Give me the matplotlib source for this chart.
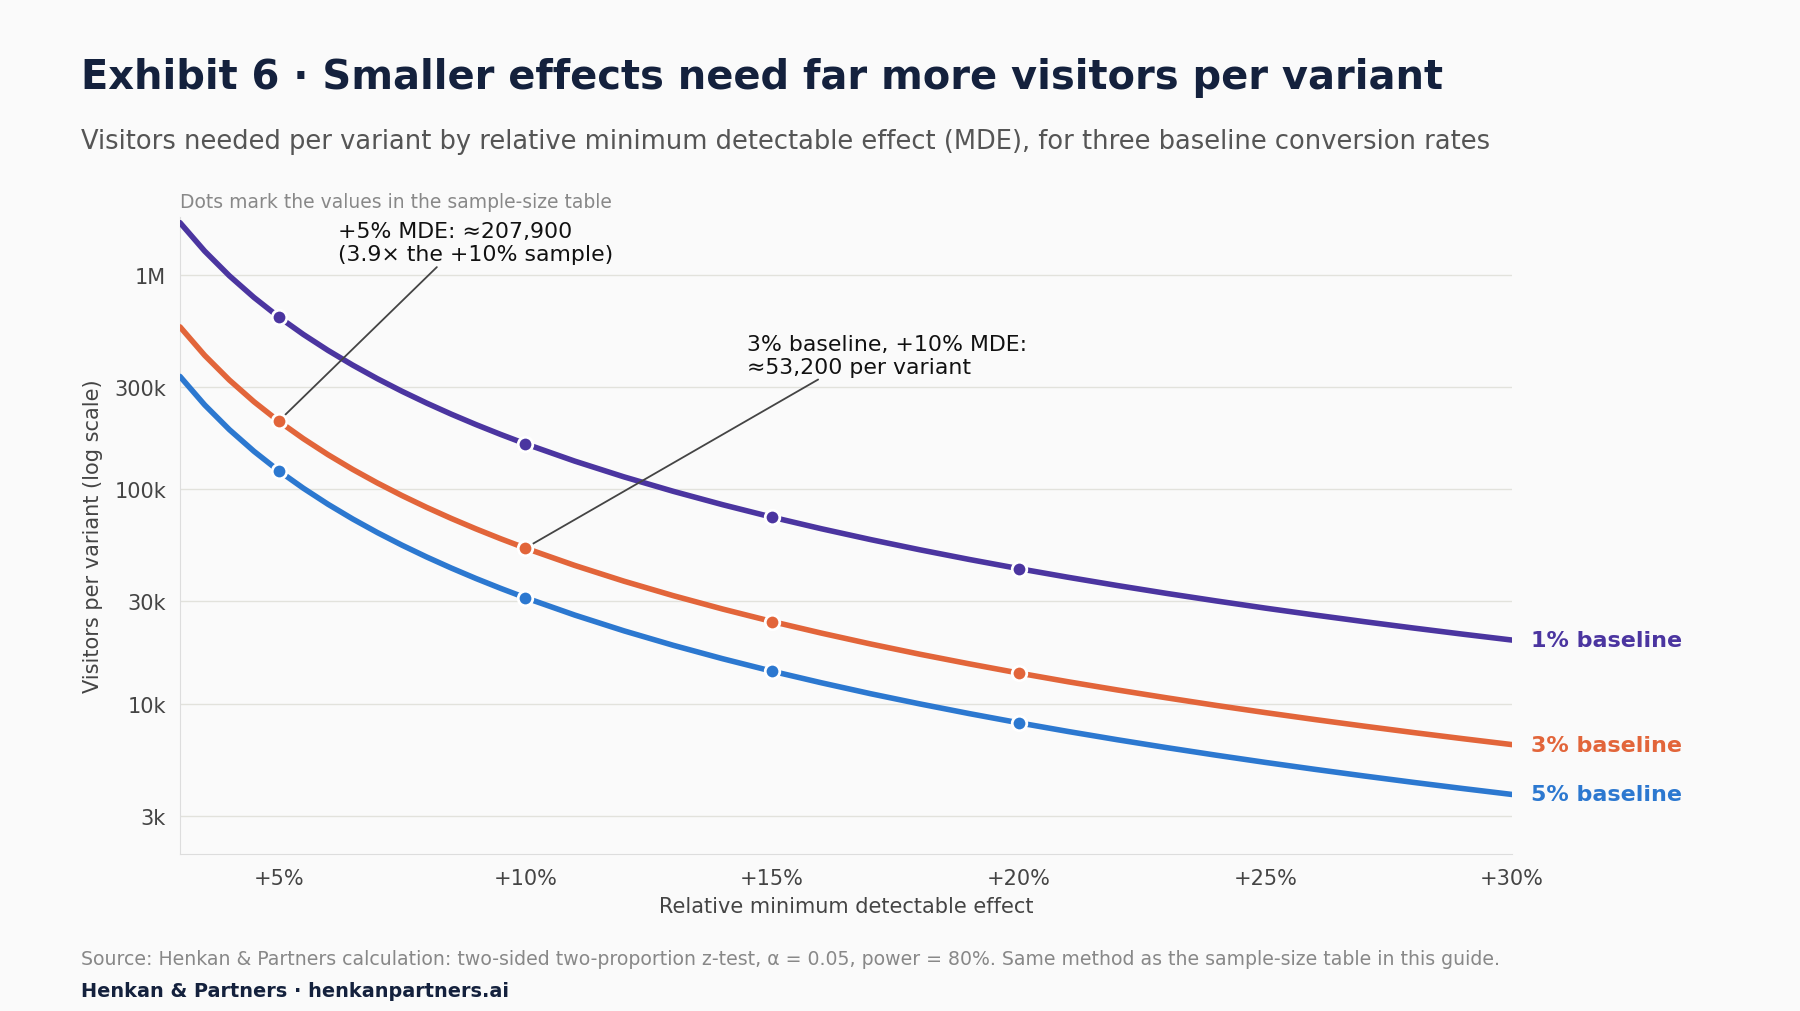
import matplotlib
matplotlib.use("Agg")
import matplotlib.pyplot as plt
from matplotlib.ticker import FixedLocator, FixedFormatter, NullLocator

mde = [3, 3.5, 4, 4.5, 5, 5.5, 6, 6.5, 7, 7.5, 8, 8.5, 9, 9.5, 10] + list(range(11, 31))
base1 = [1752000, 1290600, 990600, 784600, 637000, 527700, 444500, 379700, 328100, 286500,
         252400, 224100, 200400, 180300, 163100, 135400, 114300,
         97870, 84780, 74190, 65500, 58290, 52230, 47090, 42690, 38900, 35600,
         32710, 30180, 27930, 25940, 24160, 22560, 21120, 19820]
base3 = [572200, 421400, 323400, 256100, 207900, 172300, 145100, 123900, 107100, 93510,
         82370, 73140, 65390, 58820, 53200, 44180, 37290,
         31920, 27650, 24190, 21360, 19000, 17020, 15350, 13910, 12670, 11600,
         10660, 9829, 9097, 8446, 7866, 7344, 6876, 6451]
base5 = [336100, 247500, 189900, 150400, 122100, 101200, 85200, 72760, 62880, 54900,
         48360, 42940, 38380, 34530, 31230, 25930, 21880,
         18730, 16220, 14190, 12530, 11140, 9983, 8998, 8155, 7428, 6797,
         6245, 5759, 5329, 4948, 4607, 4301, 4026, 3777]
dot_mde = [5, 10, 15, 20]
labels = ["1% baseline", "3% baseline", "5% baseline"]
colors = ["#4b35a0", "#e2653a", "#2c78d0"]
yticks = [3000, 10000, 30000, 100000, 300000, 1000000]
ytick_labels = ["3k", "10k", "30k", "100k", "300k", "1M"]
xticks = [5, 10, 15, 20, 25, 30]
xtick_labels = ["+5%", "+10%", "+15%", "+20%", "+25%", "+30%"]

bg = "#fafafa"
fig = plt.figure(figsize=(18, 10.12), dpi=100, facecolor=bg)
ax = fig.add_axes([0.100, 0.155, 0.740, 0.630], facecolor=bg)

for vals, lab, c in zip([base1, base3, base5], labels, colors):
    ax.plot(mde, vals, color=c, lw=4, solid_capstyle="round", solid_joinstyle="round", zorder=3)
    dv = [vals[mde.index(m)] for m in dot_mde]
    ax.scatter(dot_mde, dv, s=110, color=c, edgecolor="white", linewidth=2, zorder=4)
    ax.annotate(lab, xy=(mde[-1], vals[-1]), xytext=(14, 0), textcoords="offset points",
                color=c, fontsize=16, fontweight="bold", va="center", ha="left",
                annotation_clip=False)

ax.set_yscale("log")
ax.set_xlim(3, 30)
ax.set_ylim(1990, 1870000)
ax.yaxis.set_major_locator(FixedLocator(yticks))
ax.yaxis.set_major_formatter(FixedFormatter(ytick_labels))
ax.yaxis.set_minor_locator(NullLocator())
ax.set_xticks(xticks)
ax.set_xticklabels(xtick_labels)
ax.tick_params(axis="both", length=0, labelsize=15, colors="#444444", pad=10)
ax.grid(axis="y", color="#e2e2dc", lw=1)
ax.set_axisbelow(True)
for s in ["top", "right"]:
    ax.spines[s].set_visible(False)
for s in ["left", "bottom"]:
    ax.spines[s].set_color("#dddddd")
ax.set_xlabel("Relative minimum detectable effect", fontsize=15, color="#444444", labelpad=6)
ax.set_ylabel("Visitors per variant (log scale)", fontsize=15, color="#444444", labelpad=8)

ax.annotate("+5% MDE: ≈207,900\n(3.9× the +10% sample)", xy=(5, base3[mde.index(5)]),
            xytext=(6.2, 1120000), fontsize=15.8, color="#111111", va="bottom", ha="left",
            arrowprops=dict(arrowstyle="-", color="#444444", lw=1.3, shrinkA=0, shrinkB=0,
                            relpos=(0.37, 0)))
ax.annotate("3% baseline, +10% MDE:\n≈53,200 per variant", xy=(10, base3[mde.index(10)]),
            xytext=(14.5, 335000), fontsize=15.8, color="#111111", va="bottom", ha="left",
            arrowprops=dict(arrowstyle="-", color="#444444", lw=1.3, shrinkA=0, shrinkB=0,
                            relpos=(0.27, 0)))

fig.text(0.100, 0.794, "Dots mark the values in the sample-size table", fontsize=13.5, color="#888888")
fig.text(0.045, 0.912, "Exhibit 6 · Smaller effects need far more visitors per variant",
         fontsize=28.8, fontweight="bold", color="#14213d")
fig.text(0.045, 0.853, "Visitors needed per variant by relative minimum detectable effect (MDE), for three baseline conversion rates",
         fontsize=18.5, color="#555555")
fig.text(0.045, 0.046, "Source: Henkan & Partners calculation: two-sided two-proportion z-test, α = 0.05, power = 80%. Same method as the sample-size table in this guide.",
         fontsize=13.6, color="#888888")
fig.text(0.045, 0.015, "Henkan & Partners · henkanpartners.ai", fontsize=13.9, fontweight="bold", color="#14213d")

fig.savefig("out.png", dpi=100, facecolor=bg)
